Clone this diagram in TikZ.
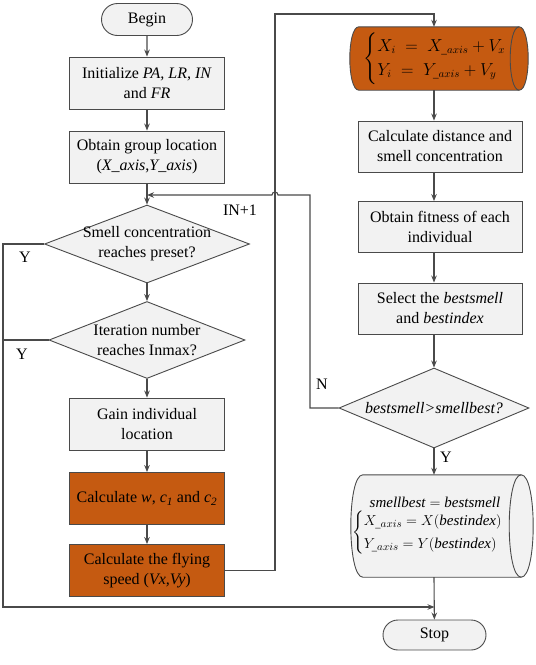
\documentclass[tikz,border=0pt]{standalone}
\usepackage{amsmath}
\usepackage{fontspec}
\setmainfont{Liberation Serif}
\usetikzlibrary{shapes.geometric,shapes.misc,arrows.meta,positioning,calc,backgrounds}
\definecolor{boxfill}{HTML}{F2F2F2}
\definecolor{orng}{HTML}{C55A11}
\definecolor{linegray}{HTML}{4A4A4A}
% outline of a lying drum round node #1, end radius #2, fill #3
\newcommand\drawdrum[3]{%
  \begin{scope}[on background layer]
  \path[draw=linegray,line width=0.9pt,fill=#3] ([xshift=#2pt]#1.north west) -- ([xshift=-#2pt]#1.north east)
    .. controls +(1.333*#2,0) and +(1.333*#2,0) .. ([xshift=-#2pt]#1.south east)
    -- ([xshift=#2pt]#1.south west)
    .. controls +(-1.333*#2,0) and +(-1.333*#2,0) .. ([xshift=#2pt]#1.north west) -- cycle;
  \draw[linegray,line width=0.9pt] ([xshift=-#2pt]#1.north east)
    .. controls +(-1.333*#2,0) and +(-1.333*#2,0) .. ([xshift=-#2pt]#1.south east);
  \end{scope}}

\begin{document}
\begin{tikzpicture}
[
   x=1pt,y=-1pt,
   font=\fontsize{16}{20}\selectfont,
   procbox/.style={draw=linegray,fill=boxfill,line width=0.9pt,minimum width=155pt,minimum height=52pt,align=center,inner sep=1pt},
   wide/.style={minimum width=164pt,minimum height=51pt},
   hotbox/.style={procbox,fill=orng},
   endbox/.style={draw=linegray,fill=boxfill,line width=0.9pt,rounded rectangle,minimum height=32pt,inner sep=1pt},
   askbox/.style={draw=linegray,fill=boxfill,line width=0.9pt,diamond,inner sep=0pt},
   drumbox/.style={align=center,inner sep=0pt},
   link/.style={draw=linegray,line width=1.1pt},
   flow/.style={link,-{Stealth[length=7pt,width=5.5pt]}}]
\useasboundingbox (0,0) rectangle (536,665);

\node[endbox,minimum width=93pt] (begin) at (147,19.5) {Begin};
\node[procbox] (init) at (147,83) {Initialize \textit{PA, LR, IN}\\and \textit{FR}};
\node[procbox] (group) at (147,157) {Obtain group location\\(\textit{X\_axis},\textit{Y\_axis})};
\node[askbox,minimum width=205pt,minimum height=78pt] (ask1) at (147,244) {};
\node[align=center] (ask1txt) at (ask1) {Smell concentration\\reaches preset?};
\node[askbox,minimum width=196pt,minimum height=77pt] (ask2) at (147,340) {};
\node[align=center] (ask2txt) at (ask2) {Iteration number\\reaches Inmax?};
\node[procbox] (gain) at (147,424) {Gain individual\\location};
\node[hotbox] (coef) at (147,498.5) {Calculate \textit{w}, \textit{c}\textsubscript{\textit{1}} and \textit{c}\textsubscript{\textit{2}}};
\node[hotbox] (speed) at (147,570.5) {Calculate the flying\\speed (\textit{Vx,Vy})};

\node[drumbox,minimum width=178pt,minimum height=63pt] (move) at (439,58.5) {};
\drawdrum{move}{9}{orng}
\node[drumbox] (movetxt) at ([xshift=4pt]move.center)
   {$\begin{cases} X_i \;=\; X_{\_axis} + V_x\\ Y_i \;=\; Y_{\_axis} + V_y\end{cases}$};
\node[procbox,wide] (dist) at (440,146.5) {Calculate distance and\\smell concentration};
\node[procbox,wide] (fit) at (440,227) {Obtain fitness of each\\individual};
\node[procbox,wide] (pick) at (440,308.5) {Select the \textit{bestsmell}\\and \textit{bestindex}};
\node[askbox,minimum width=190pt,minimum height=80pt] (ask3) at (434,408) {};
\node (ask3txt) at (ask3) {\textit{bestsmell>smellbest?}};
\node[drumbox,minimum width=182pt,minimum height=102pt] (keep) at (442,526) {};
\drawdrum{keep}{12}{boxfill}
\node[drumbox,font=\fontsize{15}{19}\selectfont] (keeptxt) at ([xshift=-7pt]keep.center)
   {$\mathit{smellbest} = \mathit{bestsmell}$\\[1pt]
    $\begin{cases} X_{\_axis} = X(\mathit{bestindex})\\ Y_{\_axis} = Y(\mathit{bestindex})\end{cases}$};
\node[endbox,minimum width=105pt,minimum height=30pt] (stop) at (434.5,635) {Stop};

\coordinate (rc) at (434,0);
\coordinate (up) at (275,14);
\coordinate (loop) at (310,195);
\coordinate (yl) at (3,607);

\draw[flow] (begin) -- (init);
\draw[flow] (init) -- (group);
\draw[flow] (group) -- (ask1.north);
\draw[flow] (ask1) -- (ask2.north);
\draw[flow] (ask2) -- (gain);
\draw[flow] (gain) -- (coef);
\draw[flow] (coef) -- (speed);
\draw[flow] (speed.east) -| (up) -| (move.north -| rc);
\draw[flow] (move.south -| rc) -- (dist.north -| rc);
\draw[flow] (dist.south -| rc) -- (fit.north -| rc);
\draw[flow] (fit.south -| rc) -- (pick.north -| rc);
\draw[flow] (pick.south -| rc) -- (ask3.north);
\draw[flow] (ask3) -- (keep.north -| rc);
\draw[flow] (keep.south -| rc) -- (stop);
\draw[flow] (ask3.west) -| (loop) -- ($(loop -| up)+(3,0)$) arc[start angle=0,end angle=-180,radius=3] -- (group |- loop);
\draw[link] (ask2.west) -- (ask2.west -| yl);
\draw[flow] (ask1.west) -| (yl) -- (yl -| stop);

\node (inc) at (240,210) {IN+1};
\node (no) at (322,384) {N};
\node (yes1) at (25,257) {Y};
\node (yes2) at (22,354) {Y};
\node (yes3) at (446,457) {Y};
\end{tikzpicture}
\end{document}
